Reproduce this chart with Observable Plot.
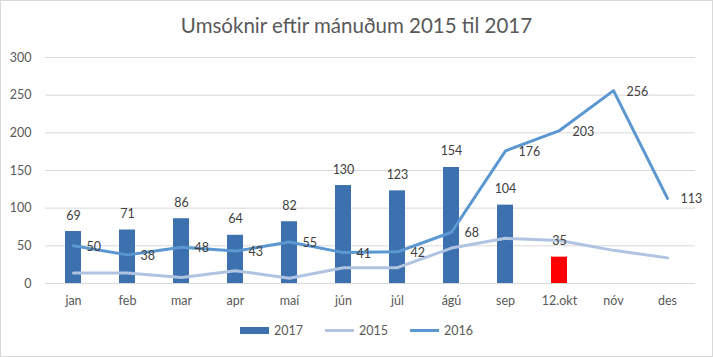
<!DOCTYPE html>
<html>
<head>
<meta charset="utf-8">
<script src="https://cdn.jsdelivr.net/npm/d3@7"></script>
<script src="https://cdn.jsdelivr.net/npm/@observablehq/plot@0.6"></script>
<style>
  html, body { margin: 0; padding: 0; background: #fff; }
  #wrap { position: relative; width: 713px; height: 357px; font-family: Lato, "Open Sans", sans-serif; overflow: hidden; }
  #wrap .frame { position: absolute; left: 0; top: 0; width: 711px; height: 355px; border: 1px solid #d9d9d9; pointer-events: none; }
  #title { position: absolute; left: 0; width: 713px; top: 13px; text-align: center; font-size: 20.5px; color: #595959; }
  #legend { position: absolute; top: 323px; left: 0; width: 713px; display: flex; justify-content: center; gap: 22px; font-size: 12.5px; color: #595959; }
  #legend .item { display: flex; align-items: center; gap: 5px; }
  #legend .sw { display: inline-block; width: 29px; }
  #chart { position: absolute; left: 0; top: 0; }
</style>
</head>
<body>
<div id="wrap">
  <div id="chart"></div>
  <div id="title">Umsóknir eftir mánuðum 2015 til 2017</div>
  <div id="legend"></div>
  <div class="frame"></div>
</div>
<script>
const months = ["jan","feb","mar","apr","maí","jún","júl","ágú","sep","12.okt","nóv","des"];
const values2017 = [69, 71, 86, 64, 82, 130, 123, 154, 104, 35];
const values2015 = [14, 14, 8, 17, 7, 21, 21, 47, 60, 57, 44, 34];
const values2016 = [50, 38, 48, 43, 55, 41, 42, 68, 176, 203, 256, 113];
const yTicks = [0, 50, 100, 150, 200, 250, 300];
const seriesNames = ["2017", "2015", "2016"];
const highlightMonth = "12.okt";

const C2017 = "#3d70ae", C2015 = "#b0c4e2", C2016 = "#5b97d0", CRED = "#ff0000";

const bars = values2017.map((v, i) => ({month: months[i], value: v}));
const l2015 = values2015.map((v, i) => ({month: months[i], value: v}));
const l2016 = values2016.map((v, i) => ({month: months[i], value: v}));

const plot = Plot.plot({
  width: 713,
  height: 357,
  marginLeft: 45,
  marginRight: 18,
  marginTop: 57,
  marginBottom: 74,
  style: {fontFamily: "Lato, 'Open Sans', sans-serif", fontSize: "12px", color: "#595959", background: "transparent"},
  x: {domain: months, paddingInner: 0.7, paddingOuter: 0.35, label: null},
  y: {domain: [0, 300], label: null},
  marks: [
    Plot.gridY(yTicks, {stroke: "#d9d9d9", strokeOpacity: 1, strokeWidth: 1}),
    Plot.axisY(yTicks, {tickSize: 0, tickPadding: 14, label: null, fontSize: 12.5, fill: "#595959"}),
    Plot.axisX({tickSize: 0, tickPadding: 13, label: null, fontSize: 12.5, fill: "#595959"}),
    Plot.barY(bars, {x: "month", y: "value", fill: d => d.month === highlightMonth ? CRED : C2017}),
    Plot.line(l2015, {x: "month", y: "value", stroke: C2015, strokeWidth: 3}),
    Plot.line(l2016, {x: "month", y: "value", stroke: C2016, strokeWidth: 3}),
    Plot.text(bars, {x: "month", y: "value", text: "value", dy: -16, fontSize: 12.5, fill: "#404040"}),
    Plot.text(l2016, {x: "month", y: "value", text: "value", dx: 13, dy: 1, textAnchor: "start", fontSize: 12.5, fill: "#404040"})
  ]
});
document.getElementById("chart").appendChild(plot);

const legend = document.getElementById("legend");
const swatches = [
  {name: seriesNames[0], style: `height:7px;background:${C2017}`},
  {name: seriesNames[1], style: `height:3px;background:${C2015}`},
  {name: seriesNames[2], style: `height:3px;background:${C2016}`}
];
for (const s of swatches) {
  const item = document.createElement("div");
  item.className = "item";
  item.innerHTML = `<span class="sw" style="${s.style}"></span><span>${s.name}</span>`;
  legend.appendChild(item);
}
</script>
</body>
</html>
